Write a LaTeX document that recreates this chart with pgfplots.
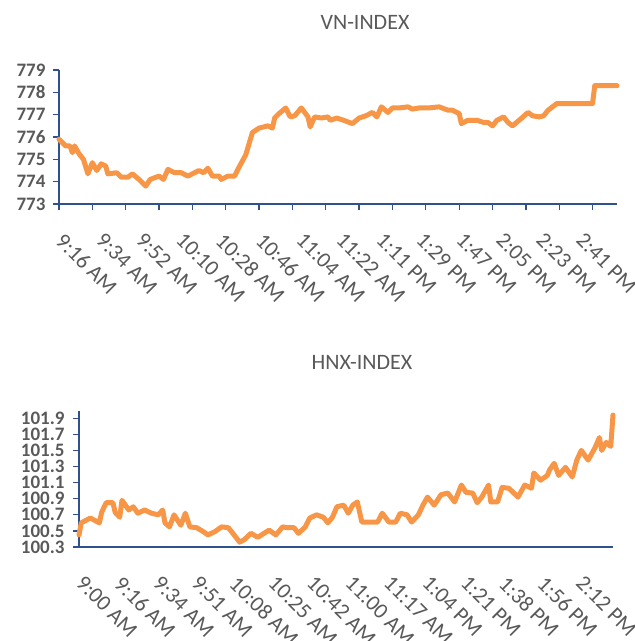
\documentclass[border=0pt]{standalone}
\usepackage{fontspec}
\setmainfont{Carlito}
\usepackage{pgfplots}
\pgfplotsset{compat=1.18}
\definecolor{lineor}{RGB}{247,150,70}
\definecolor{axblue}{RGB}{47,82,143}
\definecolor{txtgray}{RGB}{89,89,89}
\pgfplotsset{
  common/.style={
    scale only axis,
    axis x line=bottom, axis y line=left,
    axis line style={-, axblue, line width=1.3pt},
    tick align=outside, major tick length=6pt,
    tick style={axblue, line width=1.3pt},
    clip=false,
    /pgf/number format/assume math mode=true,
    yticklabel style={font=\fontsize{19}{22}\selectfont\bfseries, text=txtgray},
    xticklabel style={font=\fontsize{22}{25}\selectfont, text=txtgray, inner sep=1pt, xshift=6pt, yshift=-26pt, rotate=-45, anchor=north west},
    extra x tick style={major tick length=0pt},
  }
}
\begin{document}
\begin{tikzpicture}
\useasboundingbox (0pt,0pt) rectangle (635pt,641pt);
\node[font=\fontsize{22}{26}\selectfont, text=txtgray] at (365pt,619pt) {VN-INDEX};
\node[font=\fontsize{22}{26}\selectfont, text=txtgray] at (362pt,279pt) {HNX-INDEX};
\begin{axis}[common,
  at={(59pt,437pt)}, anchor=south west, width=558pt, height=134pt,
  xmin=0, xmax=251, ymin=773, ymax=779,
  ytick={773,774,...,779},
  yticklabel style={xshift=-4pt},
  xtick={0,15,...,240}, xticklabels={},
  extra x ticks={0,18,...,234},
  extra x tick labels={9:16 AM,9:34 AM,9:52 AM,10:10 AM,10:28 AM,10:46 AM,11:04 AM,11:22 AM,1:11 PM,1:29 PM,1:47 PM,2:05 PM,2:23 PM,2:41 PM},
]
\addplot[color=lineor, line width=5pt, line join=round, line cap=round, mark=none] coordinates {
(0,775.9)(3,775.6)(5,775.6)(6,775.3)(7,775.6)(9,775.25)(11,775.0)(13,774.35)(15,774.85)(17,774.5)(19,774.8)(21,774.7)(22,774.35)(26,774.4)(28,774.2)(31,774.2)(33,774.35)(36,774.1)(39,773.8)(41,774.1)(45,774.25)(47,774.1)(49,774.55)(52,774.4)(55,774.4)(58,774.25)(63,774.5)(65,774.4)(67,774.6)(69,774.25)(72,774.25)(73,774.1)(76,774.25)(79,774.25)(81,774.65)(84,775.2)(87,776.2)(90,776.4)(94,776.5)(96,776.4)(97,776.85)(99,777.05)(102,777.3)(104,776.9)(106,776.95)(109,777.3)(112,776.9)(113,776.45)(115,776.9)(118,776.85)(121,776.9)(122,776.75)(125,776.85)(128,776.75)(132,776.6)(135,776.85)(138,776.95)(141,777.1)(143,776.9)(145,777.35)(148,777.1)(150,777.3)(153,777.3)(157,777.35)(159,777.25)(162,777.3)(166,777.3)(171,777.35)(175,777.2)(177,777.2)(180,777.05)(181,776.6)(184,776.75)(188,776.75)(191,776.65)(193,776.65)(195,776.5)(197,776.75)(200,776.9)(202,776.65)(204,776.5)(207,776.75)(211,777.1)(213,776.95)(216,776.9)(218,776.95)(220,777.2)(222,777.35)(224,777.5)(240,777.5)(241,778.3)(251,778.3)
};
\end{axis}
\begin{axis}[common,
  at={(79pt,94pt)}, anchor=south west, width=534pt, height=136pt,
  xmin=0, xmax=236, ymin=100.3, ymax=101.99,
  ytick={100.3,100.5,...,101.95},
  yticklabel style={xshift=-5pt, /pgf/number format/.cd, fixed, fixed zerofill, precision=1},
  xtick=\empty,
  extra x ticks={0,17,...,221},
  extra x tick labels={9:00 AM,9:16 AM,9:34 AM,9:51 AM,10:08 AM,10:25 AM,10:42 AM,11:00 AM,11:17 AM,1:04 PM,1:21 PM,1:38 PM,1:56 PM,2:12 PM},
]
\addplot[color=lineor, line width=5pt, line join=round, line cap=round, mark=none] coordinates {
(0,100.45)(1,100.6)(3,100.63)(5,100.66)(7,100.63)(9,100.6)(10,100.73)(12,100.85)(15,100.85)(16,100.73)(18,100.67)(19,100.88)(22,100.76)(24,100.8)(26,100.72)(29,100.76)(32,100.72)(35,100.7)(37,100.76)(38,100.6)(40,100.55)(42,100.7)(45,100.57)(47,100.72)(49,100.55)(52,100.54)(55,100.49)(57,100.45)(60,100.49)(63,100.55)(66,100.54)(68,100.47)(71,100.36)(73,100.39)(76,100.47)(79,100.42)(84,100.51)(87,100.45)(90,100.55)(92,100.54)(95,100.54)(97,100.47)(100,100.55)(102,100.66)(105,100.7)(108,100.67)(110,100.6)(112,100.67)(114,100.8)(117,100.82)(119,100.72)(121,100.82)(123,100.86)(125,100.61)(128,100.61)(132,100.61)(134,100.72)(137,100.61)(140,100.61)(142,100.72)(145,100.7)(147,100.61)(150,100.7)(152,100.82)(154,100.92)(157,100.82)(160,100.95)(163,100.97)(166,100.86)(169,101.07)(171,100.98)(174,100.97)(176,100.85)(178,100.92)(181,101.07)(182,100.86)(185,100.86)(187,101.04)(190,101.03)(194,100.92)(197,101.07)(200,101.03)(201,101.22)(204,101.13)(207,101.19)(208,101.26)(210,101.34)(212,101.19)(215,101.29)(218,101.17)(220,101.38)(222,101.5)(225,101.38)(228,101.53)(230,101.66)(231,101.5)(233,101.6)(235,101.55)(236,101.94)
};
\end{axis}
\end{tikzpicture}
\end{document}
